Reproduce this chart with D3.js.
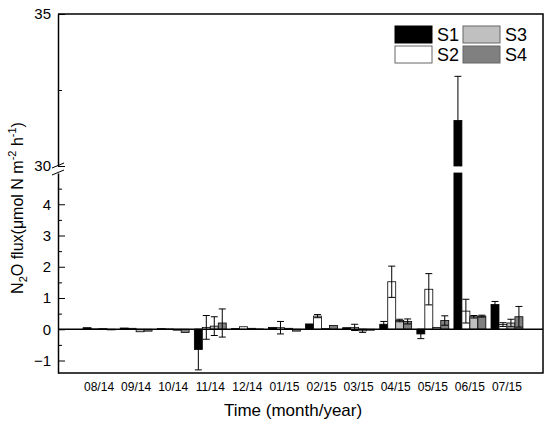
<!DOCTYPE html>
<html>
<head>
<meta charset="utf-8" />
<style>
  body { margin: 0; background: #fff; }
  svg { font-family: Arial, "Liberation Sans", sans-serif; }
  .tick line { stroke: #000; }
</style>
</head>
<body>
<div id="chart"></div>
<script src="https://d3js.org/d3.v7.min.js"></script>
<script>
// months (x categories)
var months = ['08/14', '09/14', '10/14', '11/14', '12/14', '01/15', '02/15', '03/15', '04/15', '05/15', '06/15', '07/15'];
var seriesNames = ['S1', 'S2', 'S3', 'S4'];

// N2O flux values
var s1 = [0.05, 0.04, 0.02, -0.65, 0.02, 0.06, 0.17, 0.05, 0.16, -0.15, 31.5, 0.79];
var s2 = [0.01, 0.03, 0.01, 0.06, 0.08, 0.05, 0.42, 0.06, 1.52, 1.28, 0.58, 0.15];
var s3 = [0.02, -0.08, -0.03, 0.1, 0.03, 0.03, 0.02, -0.05, 0.28, 0.06, 0.4, 0.2];
var s4 = [-0.02, -0.06, -0.1, 0.2, 0.01, -0.06, 0.12, -0.03, 0.25, 0.28, 0.42, 0.4];

// error bars
var s1err = [0.01, 0.01, 0.01, 0.65, 0.01, 0.02, 0.02, 0.02, 0.09, 0.15, 1.45, 0.1];
var s2err = [0.01, 0.01, 0.01, 0.38, 0.01, 0.2, 0.05, 0.1, 0.5, 0.5, 0.38, 0.06];
var s3err = [0.01, 0.02, 0.01, 0.3, 0.01, 0.01, 0.01, 0.05, 0.04, 0.02, 0.04, 0.12];
var s4err = [0.01, 0.01, 0.01, 0.45, 0.01, 0.01, 0.01, 0.01, 0.08, 0.15, 0.03, 0.33];

// tick labels
var lowTicks = [-1, 0, 1, 2, 3, 4];
var lowMinor = [-0.5, 0.5, 1.5, 2.5, 3.5, 4.5];
var highTicks = [30, 35];
var highMinor = [32.5];

var colors = ['#000000', '#ffffff', '#c0c0c0', '#808080'];
var values = [s1, s2, s3, s4];
var errors = [s1err, s2err, s3err, s4err];

var width = 550, height = 430;
var pLeft = 58, pRight = 543, pTop = 14, pBottom = 373;

var svg = d3.select('#chart').append('svg')
  .attr('width', width)
  .attr('height', height);

// broken y axis: two scales
var yLow = d3.scaleLinear().domain([-1.4, 5]).range([pBottom, 173]);
var yHigh = d3.scaleLinear().domain([30, 35]).range([166, pTop]);
function yMap(v) {
  return v >= 30 ? yHigh(v) : yLow(Math.min(v, 5));
}

var x = d3.scaleBand().domain(months).range([80.5, 525.5])
  .paddingInner(0.14).paddingOuter(0.07);
var x1 = d3.scaleBand().domain(seriesNames).range([0, x.bandwidth()]);

// data rows
var data = [];
months.forEach(function(m, i) {
  seriesNames.forEach(function(s, j) {
    data.push({ month: m, series: s, value: values[j][i], err: errors[j][i], color: colors[j] });
  });
});

var bars = svg.append('g');
data.forEach(function(d) {
  var bx = x(d.month) + x1(d.series);
  var segs = [];
  if (d.value > 5) {
    segs.push([yLow(5), yLow(0)]);
    segs.push([yHigh(d.value), yHigh(30)]);
  } else {
    segs.push([yLow(Math.max(d.value, 0)), yLow(Math.min(d.value, 0))]);
  }
  segs.forEach(function(sg) {
    bars.append('rect')
      .attr('x', bx)
      .attr('y', sg[0])
      .attr('width', x1.bandwidth())
      .attr('height', Math.max(sg[1] - sg[0], 0.5))
      .attr('fill', d.color)
      .attr('stroke', '#000')
      .attr('stroke-width', 0.8);
  });
});

// error bars
var eb = svg.append('g').attr('stroke', '#000').attr('stroke-width', 1);
data.forEach(function(d) {
  if (d.err < 0.03) return;
  var cx = x(d.month) + x1(d.series) + x1.bandwidth() / 2;
  var yt = yMap(d.value + d.err), yb = yMap(d.value - d.err);
  eb.append('line').attr('x1', cx).attr('x2', cx).attr('y1', yt).attr('y2', yb);
  eb.append('line').attr('x1', cx - 3.5).attr('x2', cx + 3.5).attr('y1', yt).attr('y2', yt);
  eb.append('line').attr('x1', cx - 3.5).attr('x2', cx + 3.5).attr('y1', yb).attr('y2', yb);
});

// zero line
svg.append('line')
  .attr('x1', pLeft).attr('x2', pRight)
  .attr('y1', yLow(0)).attr('y2', yLow(0))
  .attr('stroke', '#000').attr('stroke-width', 1.5);

// frame (top, right, bottom)
svg.append('path')
  .attr('d', 'M' + pLeft + ',' + pTop + 'H' + pRight + 'V' + pBottom + 'H' + pLeft)
  .attr('fill', 'none').attr('stroke', '#000').attr('stroke-width', 1.5);

// left axis, lower part
svg.append('g').attr('transform', 'translate(' + pLeft + ',0)')
  .call(d3.axisLeft(yLow).tickValues(lowTicks).tickSizeInner(-7).tickSizeOuter(0).tickPadding(7).tickFormat(d3.format('d')));
svg.append('g').attr('transform', 'translate(' + pLeft + ',0)')
  .call(d3.axisLeft(yLow).tickValues(lowMinor).tickSizeInner(-4).tickSizeOuter(0).tickFormat(''))
  .select('.domain').remove();

// left axis, upper part
svg.append('g').attr('transform', 'translate(' + pLeft + ',0)')
  .call(d3.axisLeft(yHigh).tickValues(highTicks).tickSizeInner(-7).tickSizeOuter(0).tickPadding(7).tickFormat(d3.format('d')));
svg.append('g').attr('transform', 'translate(' + pLeft + ',0)')
  .call(d3.axisLeft(yHigh).tickValues(highMinor).tickSizeInner(-4).tickSizeOuter(0).tickFormat(''))
  .select('.domain').remove();

svg.selectAll('.domain').attr('stroke-width', 1.5);
svg.selectAll('.tick text').attr('font-size', 15).attr('fill', '#000');
svg.selectAll('.tick line').attr('stroke-width', 1);

// axis break marks
svg.append('line').attr('x1', pLeft - 6).attr('x2', pLeft + 6).attr('y1', 168).attr('y2', 163).attr('stroke', '#000');
svg.append('line').attr('x1', pLeft - 6).attr('x2', pLeft + 6).attr('y1', 175).attr('y2', 170).attr('stroke', '#000');

// x labels
var gx = svg.append('g').attr('transform', 'translate(0,' + pBottom + ')')
  .call(d3.axisBottom(x).tickSize(0).tickPadding(9));
gx.select('.domain').remove();
gx.selectAll('text').attr('font-size', 12).attr('fill', '#000');

// axis titles
svg.append('text')
  .attr('x', 293).attr('y', 416)
  .attr('text-anchor', 'middle')
  .attr('font-size', 17)
  .text('Time (month/year)');

var yt = svg.append('text')
  .attr('transform', 'translate(23,208) rotate(-90)')
  .attr('text-anchor', 'middle')
  .attr('font-size', 16);
yt.append('tspan').text('N');
yt.append('tspan').attr('font-size', 11).attr('dy', 4).text('2');
yt.append('tspan').attr('dy', -4).text('O flux(\u03bcmol N m');
yt.append('tspan').attr('font-size', 11).attr('dy', -7).text('-2');
yt.append('tspan').attr('dy', 7).text(' h');
yt.append('tspan').attr('font-size', 11).attr('dy', -7).text('-1');
yt.append('tspan').attr('dy', 7).text(')');

// legend
var legendPos = [[395, 26], [395, 46], [463, 26], [463, 46]];
var lg = svg.append('g');
seriesNames.forEach(function(s, j) {
  var p = legendPos[j];
  lg.append('rect').attr('x', p[0]).attr('y', p[1]).attr('width', 37).attr('height', 17)
    .attr('fill', colors[j]).attr('stroke', j === 0 ? '#000' : '#666').attr('stroke-width', 1);
  lg.append('text').attr('x', p[0] + 42).attr('y', p[1] + 15)
    .attr('font-size', 18).text(s);
});
</script>
</body>
</html>
